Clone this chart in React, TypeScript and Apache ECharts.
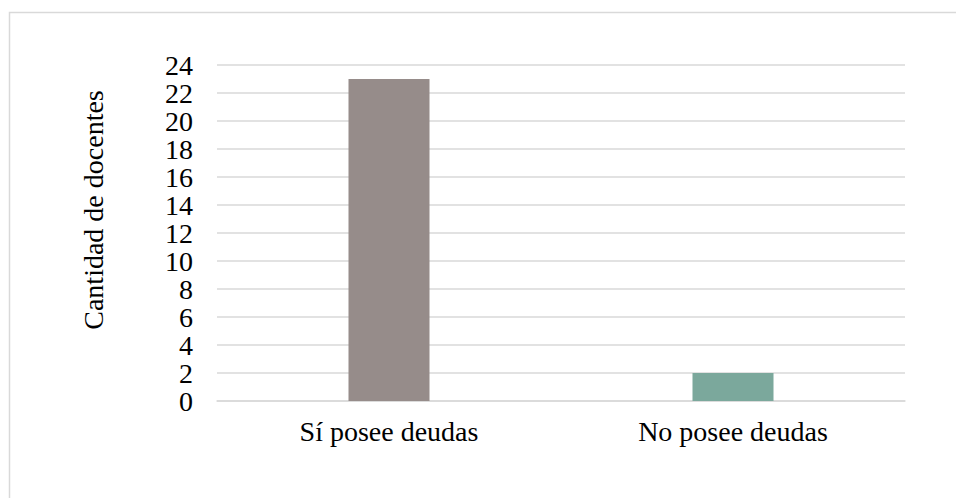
import React, { useEffect, useRef } from "react";
import * as echarts from "echarts";

const categories = ["Sí posee deudas", "No posee deudas"];
const values = [23, 2];
const barColors = ["#968c8a", "#7ba89c"];
const yAxisTitle = "Cantidad de docentes";
const yMin = 0;
const yMax = 24;
const yInterval = 2;

const FONT = "Liberation Serif";

export default function App() {
  const ref = useRef<HTMLDivElement>(null);
  useEffect(() => {
    if (!ref.current) return;
    const chart = echarts.init(ref.current, undefined, { renderer: "svg" });
    chart.setOption({
      animation: false,
      backgroundColor: "#ffffff",
      grid: { left: 217, right: 51, top: 65, bottom: 97, containLabel: false },
      graphic: [
        {
          type: "rect",
          shape: { x: 9.5, y: 12.5, width: 1000, height: 600 },
          style: { fill: "none", stroke: "#d9d9d9", lineWidth: 1.5 },
          silent: true,
        },
        {
          type: "text",
          x: 93,
          y: 210,
          rotation: Math.PI / 2,
          style: {
            text: yAxisTitle,
            fontFamily: FONT,
            fontSize: 28,
            fill: "#000000",
            align: "center",
            verticalAlign: "middle",
          },
        },
      ],
      xAxis: {
        type: "category",
        data: categories,
        axisLine: { show: true, lineStyle: { color: "#d9d9d9", width: 1.5 } },
        axisTick: { show: false },
        axisLabel: {
          color: "#000000",
          fontFamily: FONT,
          fontSize: 28,
          margin: 16,
        },
      },
      yAxis: {
        type: "value",
        min: yMin,
        max: yMax,
        interval: yInterval,
        axisLine: { show: false },
        axisTick: { show: false },
        splitLine: { lineStyle: { color: "#d9d9d9", width: 1.5 } },
        axisLabel: {
          color: "#000000",
          fontFamily: FONT,
          fontSize: 28,
          lineHeight: 27,
          margin: 24,
          showMinLabel: true,
          showMaxLabel: true,
          hideOverlap: false,
        },
      },
      series: [
        {
          type: "bar",
          barWidth: 81,
          data: values.map((v, i) => ({ value: v, itemStyle: { color: barColors[i] } })),
        },
      ],
    });
    return () => chart.dispose();
  }, []);
  return (
    <div
      ref={ref}
      style={{ position: "fixed", left: 0, top: 0, width: 956, height: 498 }}
    />
  );
}
